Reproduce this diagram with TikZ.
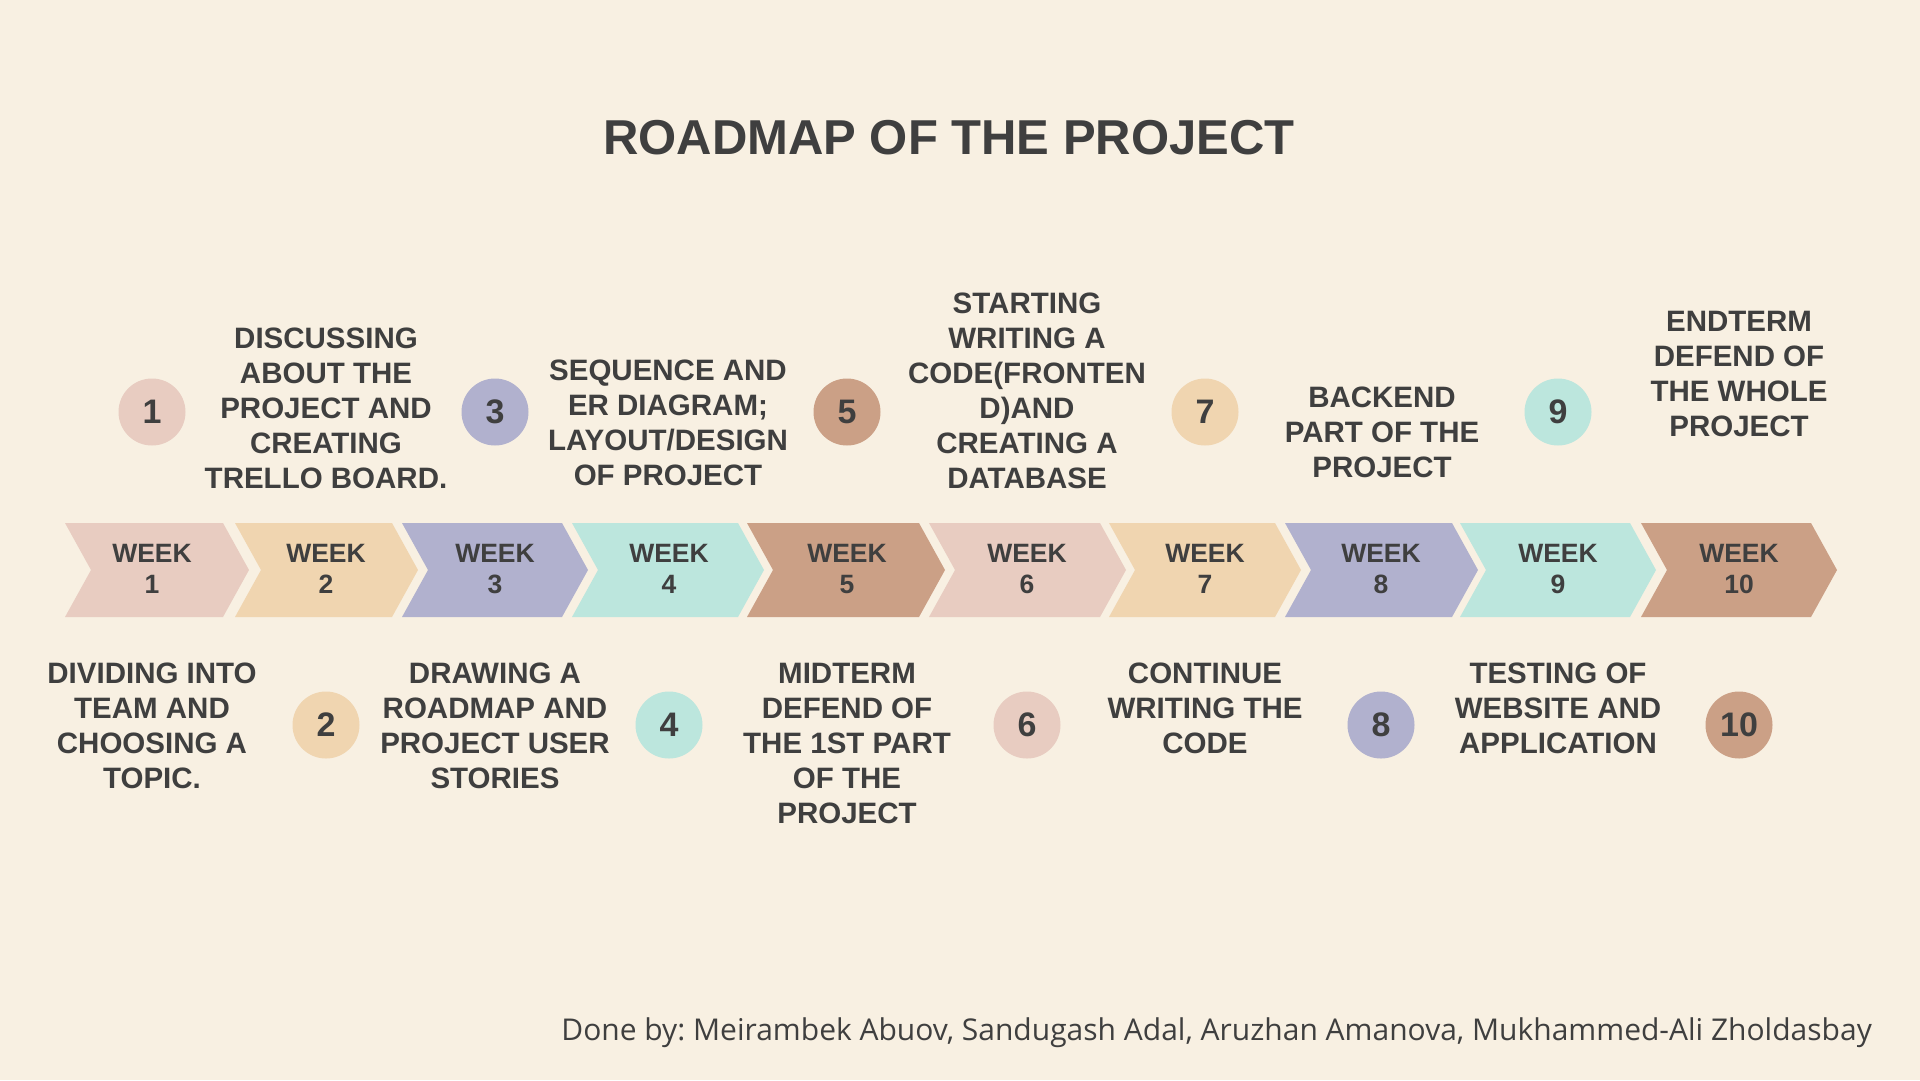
\documentclass[tikz,border=0pt]{standalone}
\usepackage{fontspec}
\setmainfont{Liberation Sans}
\newfontfamily\footfont{Open Sans}
\definecolor{bg}{HTML}{F8F0E2}
\definecolor{cpink}{HTML}{E8CCC1}
\definecolor{cpeach}{HTML}{F0D5B0}
\definecolor{clav}{HTML}{B1B1CE}
\definecolor{cmint}{HTML}{BCE6DD}
\definecolor{cbrown}{HTML}{CBA086}
\definecolor{ink}{HTML}{3F3F3F}
\frenchspacing
\begin{document}
\begin{tikzpicture}[x=1pt,y=-1pt,
  every node/.style={text=ink,inner sep=0pt},
  blocktext/.style={font=\fontsize{29.5}{35}\selectfont\bfseries,align=center},
  weektext/.style={font=\fontsize{26.5}{31}\selectfont\bfseries,align=center},
  numdot/.style={circle,minimum size=67pt,font=\fontsize{34}{34}\selectfont\bfseries},
  titletext/.style={font=\fontsize{49}{55}\selectfont\bfseries},
  foottext/.style={font=\footfont\fontsize{30}{36}\selectfont}]
\useasboundingbox (0,0) rectangle (1920,1080);
\fill[bg] (0,0) rectangle (1920,1080);

\node[titletext] (title) at (949,138) {ROADMAP OF THE PROJECT};

% chevrons: left, tip, colour, label x, week
\foreach \L/\T/\c/\lx/\w in {65/249/cpink/152/1, 235/418/cpeach/326/2, 402/588/clav/495/3,
  572/764/cmint/669/4, 747/945/cbrown/847/5, 929/1126/cpink/1027/6, 1109/1301/cpeach/1205/7,
  1285/1478/clav/1381/8, 1460/1656/cmint/1558/9, 1641/1837/cbrown/1739/10}{
  \fill[\c] (\L,523) -- ({\T-26},523) -- (\T,570) -- ({\T-26},617) -- (\L,617) -- ({\L+26},570) -- cycle;
  \node[weektext] (week\w) at (\lx,569) {WEEK\\\w};
}

% number circles
\node[numdot,fill=cpink]  (n1)  at (152,412) {1};
\node[numdot,fill=cpeach] (n2)  at (326,725) {2};
\node[numdot,fill=clav]   (n3)  at (495,412) {3};
\node[numdot,fill=cmint]  (n4)  at (669,725) {4};
\node[numdot,fill=cbrown] (n5)  at (847,412) {5};
\node[numdot,fill=cpink]  (n6)  at (1027,725) {6};
\node[numdot,fill=cpeach] (n7)  at (1205,412) {7};
\node[numdot,fill=clav]   (n8)  at (1381,725) {8};
\node[numdot,fill=cmint]  (n9)  at (1558,412) {9};
\node[numdot,fill=cbrown] (n10) at (1739,725) {10};

% descriptions
\node[blocktext] (d1) at (152,725.5) {DIVIDING INTO\\TEAM AND\\CHOOSING A\\TOPIC.};
\node[blocktext] (d2) at (326,408) {DISCUSSING\\ABOUT THE\\PROJECT AND\\CREATING\\TRELLO BOARD.};
\node[blocktext] (d3) at (495,725.5) {DRAWING A\\ROADMAP AND\\PROJECT USER\\STORIES};
\node[blocktext] (d4) at (668,422.5) {SEQUENCE AND\\ER DIAGRAM;\\LAYOUT/DESIGN\\OF PROJECT};
\node[blocktext] (d5) at (847,743) {MIDTERM\\DEFEND OF\\THE 1ST PART\\OF THE\\PROJECT};
\node[blocktext] (d6) at (1027,391) {STARTING\\WRITING A\\CODE(FRONTEN\\D)AND\\CREATING A\\DATABASE};
\node[blocktext] (d7) at (1205,708) {CONTINUE\\WRITING THE\\CODE};
\node[blocktext] (d8) at (1382,432) {BACKEND\\PART OF THE\\PROJECT};
\node[blocktext] (d9) at (1558,708) {TESTING OF\\WEBSITE AND\\APPLICATION};
\node[blocktext] (d10) at (1739,373.5) {ENDTERM\\DEFEND OF\\THE WHOLE\\PROJECT};

\node[foottext,anchor=base east] (foot) at (1872,1040) {Done by: Meirambek Abuov, Sandugash Adal, Aruzhan Amanova, Mukhammed-Ali Zholdasbay};
\end{tikzpicture}
\end{document}
